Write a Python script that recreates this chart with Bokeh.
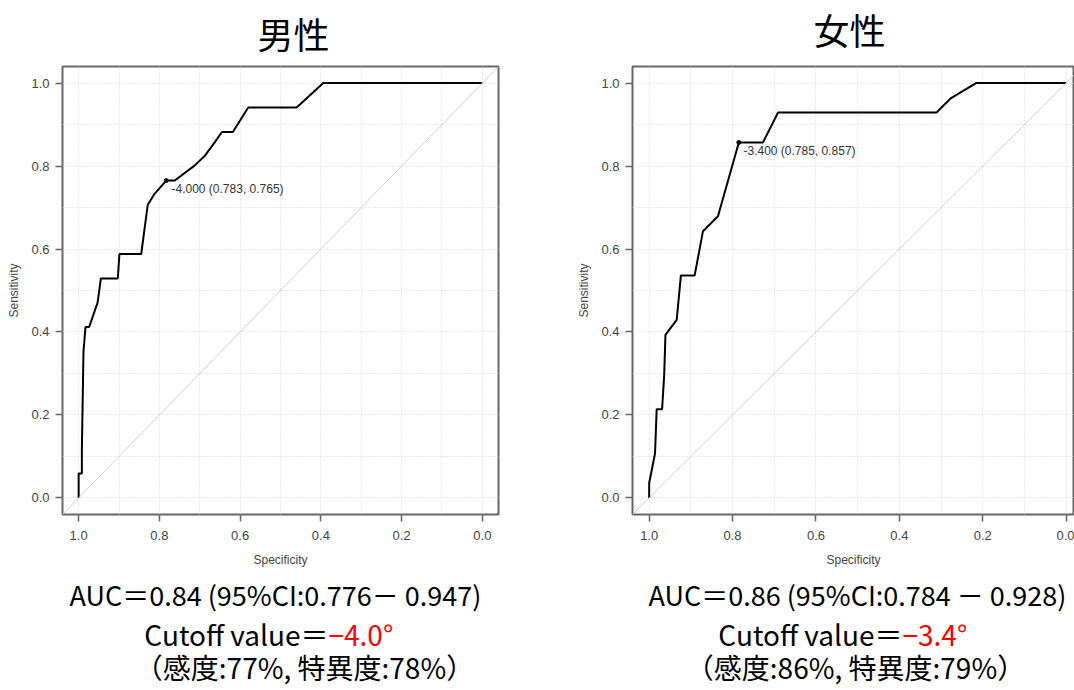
from bokeh.plotting import figure
from bokeh.models import Range1d, FixedTicker, Label, Slope
from bokeh.layouts import row, column
from bokeh.embed import file_html
from bokeh.resources import INLINE

# ---------------- data ----------------
male_spec = [1.0, 1.0, 0.992, 0.992, 0.988, 0.983, 0.974, 0.953, 0.945, 0.903, 0.899, 0.845,
             0.829, 0.812, 0.783, 0.762, 0.713, 0.688, 0.663, 0.645, 0.618, 0.580, 0.460, 0.394, 0.0]
male_sens = [0.0, 0.059, 0.059, 0.118, 0.353, 0.412, 0.412, 0.471, 0.529, 0.529, 0.588, 0.588,
             0.706, 0.733, 0.765, 0.765, 0.801, 0.824, 0.857, 0.882, 0.882, 0.941, 0.941, 1.0, 1.0]
male_cut = (0.783, 0.765)
male_cut_label = "-4.000 (0.783, 0.765)"

female_spec = [1.0, 1.0, 0.986, 0.982, 0.969, 0.964, 0.961, 0.934, 0.924, 0.891, 0.871, 0.835,
               0.785, 0.727, 0.691, 0.311, 0.276, 0.216, 0.0]
female_sens = [0.0, 0.036, 0.107, 0.214, 0.214, 0.296, 0.393, 0.429, 0.536, 0.536, 0.643, 0.679,
               0.857, 0.857, 0.929, 0.929, 0.964, 1.0, 1.0]
female_cut = (0.785, 0.857)
female_cut_label = "-3.400 (0.785, 0.857)"

axis_ticks = [0.0, 0.2, 0.4, 0.6, 0.8, 1.0]
grid_ticks = [0.0, 0.1, 0.2, 0.3, 0.4, 0.5, 0.6, 0.7, 0.8, 0.9, 1.0]

titles = ["男性", "女性"]
auc_texts = ["AUC＝0.84 (95%CI:0.776－ 0.947)", "AUC＝0.86 (95%CI:0.784 － 0.928)"]
cutoff_prefix = "Cutoff value＝"
cutoff_values = ["−4.0°", "−3.4°"]
sens_spec_texts = ["（感度:77%, 特異度:78%）", "（感度:86%, 特異度:79%）"]

CJK = "Noto Sans CJK JP"
LAT = "Liberation Sans"

TOTAL_W = 1074
TOP_H = 58          # title strip
PLOT_TOP = 8
FRAME_H = 448
PLOT_BOTTOM = 60
PLOT_H = PLOT_TOP + FRAME_H + PLOT_BOTTOM   # 516
BOT_H = 116         # text strip
FRAME_BOTTOM_PAGE = TOP_H + PLOT_TOP + FRAME_H   # 514


def panel(spec, sens, cut, cut_label, width, left, right, x_end, page_x0, lab_pos):
    frame_w = width - left - right
    x0 = 1.04
    p = figure(width=width, height=PLOT_H, output_backend="svg", toolbar_location=None,
               title=None,
               x_range=Range1d(x0, x_end), y_range=Range1d(-0.04, 1.04),
               min_border_left=left, min_border_right=right,
               min_border_top=PLOT_TOP, min_border_bottom=PLOT_BOTTOM,
               background_fill_color="white", border_fill_color="white")
    p.outline_line_color = "#666666"
    p.outline_line_width = 2

    sx = frame_w / (x0 - x_end)
    sy = FRAME_H / 1.08
    fl = page_x0 + left

    def dx(px):
        return x0 - (px - fl) / sx

    def dy(py):
        return -0.04 + (FRAME_BOTTOM_PAGE - py) / sy

    for ax in (p.xaxis[0], p.yaxis[0]):
        ax.ticker = FixedTicker(ticks=axis_ticks)
        ax.major_label_overrides = {t: f"{t:.1f}" for t in axis_ticks}
        ax.minor_tick_line_color = None
        ax.axis_line_color = None
        ax.major_tick_line_color = "#666666"
        ax.major_tick_line_width = 1.5
        ax.major_tick_out = 7
        ax.major_tick_in = 0
        ax.major_label_text_font = LAT
        ax.major_label_text_font_size = "13px"
        ax.major_label_text_color = "#444444"
        ax.axis_label_text_font = LAT
        ax.axis_label_text_font_size = "12px"
        ax.axis_label_text_font_style = "normal"
        ax.axis_label_text_color = "#444444"
    p.xaxis.major_label_standoff = 9
    p.xaxis.axis_label_standoff = 10
    p.yaxis.major_label_standoff = 6
    p.yaxis.axis_label_standoff = 7
    p.xaxis.axis_label = "Specificity"
    p.yaxis.axis_label = "Sensitivity"

    for g in (p.xgrid[0], p.ygrid[0]):
        g.ticker = FixedTicker(ticks=grid_ticks)
        g.grid_line_color = "#d6d6d6"
        g.grid_line_dash = "1 2"
        g.grid_line_width = 1

    p.add_layout(Slope(gradient=-1, y_intercept=1, line_color="#cfcfcf", line_width=1))

    p.line(spec, sens, line_color="black", line_width=2)
    p.scatter([cut[0]], [cut[1]], size=4, color="black")

    p.add_layout(Label(x=dx(lab_pos[0]), y=dy(lab_pos[1]), text=cut_label,
                       text_font=LAT, text_font_size="12px", text_color="#333333",
                       text_align="left", text_baseline="middle"))
    return p


def strip(height, y_top, y_bottom):
    f = figure(width=TOTAL_W, height=height, output_backend="svg", toolbar_location=None,
               title=None, x_range=Range1d(0, TOTAL_W), y_range=Range1d(y_bottom, y_top),
               x_axis_location=None, y_axis_location=None,
               min_border_left=0, min_border_right=0, min_border_top=0, min_border_bottom=0,
               background_fill_color="white", border_fill_color="white")
    f.outline_line_color = None
    f.xgrid.visible = False
    f.ygrid.visible = False
    return f


def text(f, x, y, s, size, color="black", align="center"):
    f.add_layout(Label(x=x, y=y, text=s, text_font=CJK, text_font_size=size,
                       text_color=color, text_align=align, text_baseline="middle"))


# title strip (page coordinates)
top = strip(TOP_H, 0, TOP_H)
text(top, 293, 32, titles[0], "36px")
text(top, 849, 28, titles[1], "36px")

# plots
W1 = 570
p1 = panel(male_spec, male_sens, male_cut, male_cut_label, W1, 62, 72, -0.04, 0, (171, 188))
p2 = panel(female_spec, female_sens, female_cut, female_cut_label, TOTAL_W - W1, 62, 0, -0.02,
           W1, (743, 150))

# text strip (page coordinates)
y0 = TOP_H + PLOT_H
bot = strip(BOT_H, y0, y0 + BOT_H)
centers = [(275, 328, 304), (857, 902, 855)]
for i in range(2):
    ca, cc, cs = centers[i]
    text(bot, ca, 594, auc_texts[i], "27px")
    text(bot, cc, 633, cutoff_prefix, "28px", align="right")
    text(bot, cc, 633, cutoff_values[i], "28px", color="#ff0000", align="left")
    text(bot, cs, 666, sens_spec_texts[i], "28px")

layout = column(top, row(p1, p2), bot)
open("out.html", "w").write(file_html(layout, INLINE))
